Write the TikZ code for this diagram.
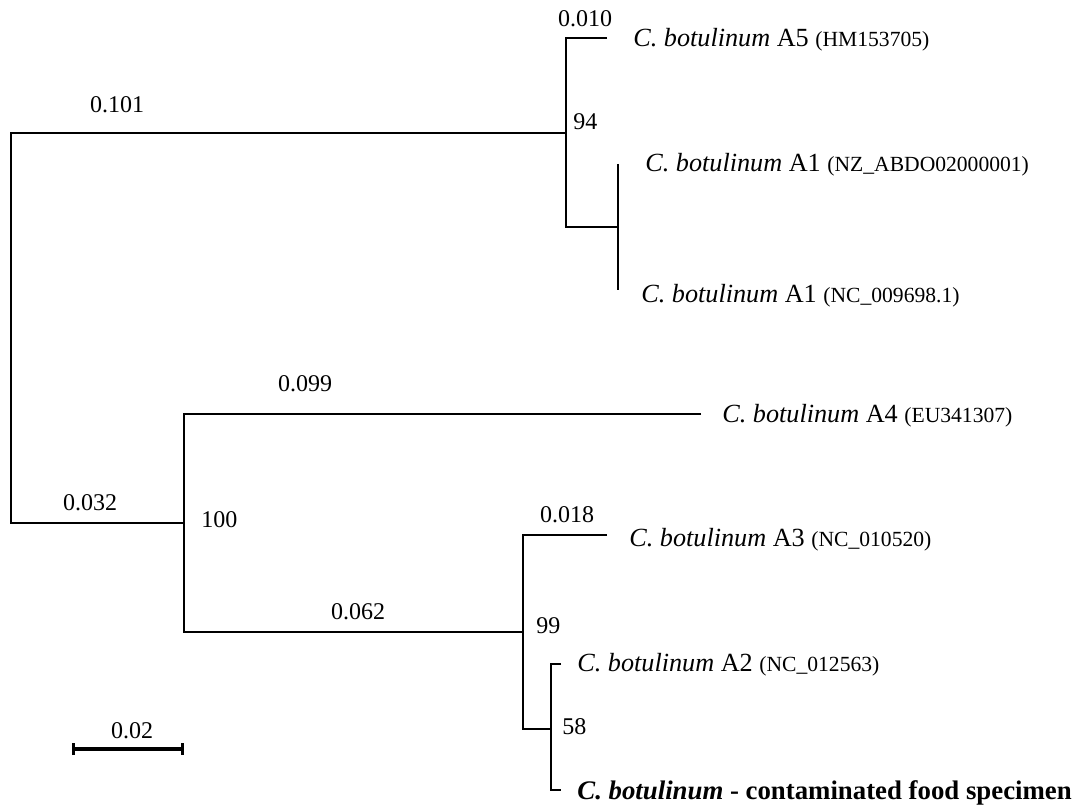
\documentclass[tikz,border=0pt]{standalone}
\usepackage{fontspec}
\setmainfont{Liberation Serif}
\usepackage{tikz}
\usetikzlibrary{arrows.meta, positioning}

\newcommand{\cbot}{\textit{C. botulinum}}
\newcommand{\acc}[1]{{\fontsize{10.8}{12}\selectfont (#1)}}

\begin{document}
\begin{tikzpicture}
  [
    x=0.5pt, y=-0.5pt,
    Branch/.style={draw=black, line width=1pt},
    Taxon/.style={anchor=west, inner sep=0pt, font=\fontsize{13.1}{15}\selectfont},
    Len/.style={inner sep=0pt, font=\fontsize{12}{14}\selectfont},
    Boot/.style={anchor=west, inner sep=0pt, font=\fontsize{12}{14}\selectfont}
  ]
  \useasboundingbox (0,0) rectangle (1074,806);

  % Nodes
  \coordinate (rtop) at (11, 133);
  \coordinate (rbot) at (11, 523);

  \coordinate (n94) at (566, 133);
  \coordinate (a5) at (607, 38);
  \coordinate (na1) at (618, 227);
  \coordinate (a1nz) at (618, 164);
  \coordinate (a1nc) at (618, 290);

  \coordinate (n100) at (184, 523);
  \coordinate (a4) at (701, 414);
  \coordinate (n99) at (523, 632);
  \coordinate (a3) at (607, 535);
  \coordinate (n58) at (551, 729);
  \coordinate (a2) at (561, 664);
  \coordinate (cf) at (561, 790);

  \coordinate (s0) at (72, 749);
  \coordinate (s1) at (184, 749);

  \node[Taxon] (tA5) at(633, 40) {\cbot{} A5 \acc{HM153705}};
  \node[Taxon] (tA1nz) at(645, 165) {\cbot{} A1 \acc{NZ\_ABDO02000001}};
  \node[Taxon] (tA1nc) at(641, 296) {\cbot{} A1 \acc{NC\_009698.1}};
  \node[Taxon] (tA4) at(722, 416) {\cbot{} A4 \acc{EU341307}};
  \node[Taxon] (tA3) at(629, 540) {\cbot{} A3 \acc{NC\_010520}};
  \node[Taxon] (tA2) at(577, 665) {\cbot{} A2 \acc{NC\_012563}};
  \node[Taxon, font=\fontsize{13.4}{15}\selectfont] (tCF) at(577, 793)
    {\textbf{\textit{C. botulinum} - contaminated food specimen}};

  \node[Len] (l101) at(117, 105) {0.101};
  \node[Len] (l010) at(585, 19) {0.010};
  \node[Len] (l032) at(90, 503) {0.032};
  \node[Len] (l099) at(305, 384) {0.099};
  \node[Len] (l062) at(358, 612) {0.062};
  \node[Len] (l018) at(567, 515) {0.018};
  \node[Len] (lscale) at(132, 731) {0.02};

  \node[Boot] (b94) at(573, 122) {94};
  \node[Boot] (b100) at(201, 520) {100};
  \node[Boot] (b99) at(536, 626) {99};
  \node[Boot] (b58) at(562, 727) {58};

  % Lines
  \path [Branch] (n94) -- (rtop) -- (rbot) -- (n100);
  \path [Branch] (a5) -| (n94) |- (na1);
  \path [Branch] (a1nz) -- (a1nc);
  \path [Branch] (a4) -| (n100) |- (n99);
  \path [Branch] (a3) -| (n99) |- (n58);
  \path [Branch] (a2) -| (n58) |- (cf);
  \path [draw, line width=1.6pt, {Bar[width=6pt]}-{Bar[width=6pt]}] (s0) -- (s1);

\end{tikzpicture}
\end{document}
